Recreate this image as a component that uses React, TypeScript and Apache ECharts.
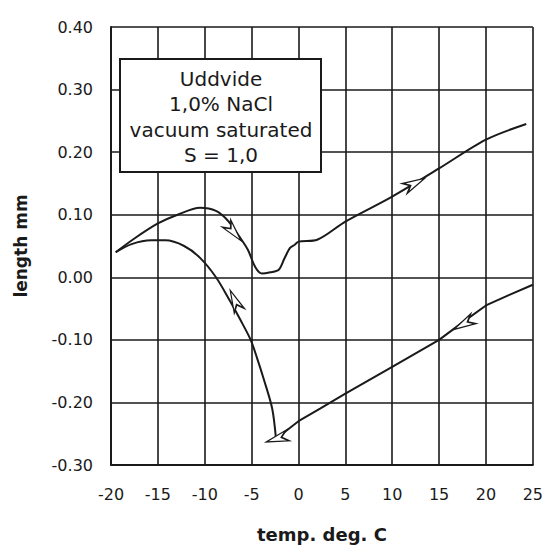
import React, { useEffect, useRef } from "react";
import * as echarts from "echarts";

// cooling branch: 25 °C down to the minimum
const coolingX = [25, 22.5, 20, 17.5, 15, 10, 5, 2.3, 0, -2.4];
const coolingY = [-0.012, -0.028, -0.045, -0.072, -0.1, -0.143, -0.186, -0.21, -0.23, -0.258];

// rising branch after freezing, continuing down to -19.5 °C
const risingX = [-2.4, -2.8, -3.7, -4.4, -5.1, -6.2, -7.3, -8.8, -10.5, -12.2, -14.2, -15.7, -17.8, -19.5];
const risingY = [-0.258, -0.21, -0.163, -0.13, -0.1, -0.068, -0.038, 0.0, 0.031, 0.05, 0.059, 0.059, 0.053, 0.04];

// heating branch from -19.5 °C back to 24 °C
const heatingX = [-19.5, -17.5, -15, -12.9, -10.5, -8.8, -7.5, -6.3, -5.4, -4.6, -3.9, -3, -2.1, -1.5, -0.9, -0.4, 0, 2, 5, 10, 15, 20, 24.3];
const heatingY = [0.04, 0.062, 0.086, 0.1, 0.111, 0.106, 0.09, 0.065, 0.044, 0.016, 0.006, 0.008, 0.012, 0.03, 0.047, 0.052, 0.057, 0.06, 0.089, 0.129, 0.174, 0.22, 0.245];

// direction arrows along the curve
const arrowX = [12.4, -6.9, -6.8, 17.6, -2.3];
const arrowY = [0.15, 0.072, -0.037, -0.075, -0.258];
const arrowRotate = [-63, -140, 24, 119, 107];

const xTicks = { min: -20, max: 25, interval: 5 };
const yTicks = { min: -0.3, max: 0.4, interval: 0.1 };

const boxLines = ["Uddvide", "1,0% NaCl", "vacuum saturated", "S = 1,0"];

const zip = (xs: number[], ys: number[]) => xs.map((x, i) => [x, ys[i]]);

const INK = "#1a1a1a";
const FONT = "DejaVu Sans";

export default function App() {
  const ref = useRef<HTMLDivElement>(null);

  useEffect(() => {
    if (!ref.current) return;
    const chart = echarts.init(ref.current, undefined, { renderer: "svg" });
    const lineStyle = { color: INK, width: 2 };
    chart.setOption({
      animation: false,
      backgroundColor: "#ffffff",
      grid: { left: 111, right: 9, top: 27, bottom: 81 },
      xAxis: {
        type: "value",
        ...xTicks,
        name: "temp. deg. C",
        nameLocation: "middle",
        nameGap: 60,
        nameTextStyle: { fontFamily: FONT, fontSize: 18, fontWeight: "bold", color: INK },
        axisLine: { show: true, onZero: false, lineStyle: { color: INK, width: 2 } },
        axisTick: { show: false },
        axisLabel: { margin: 21, fontFamily: FONT, fontSize: 16, color: INK },
        splitLine: { show: true, lineStyle: { color: INK, width: 1.6 } },
      },
      yAxis: {
        type: "value",
        ...yTicks,
        name: "length mm",
        nameLocation: "middle",
        nameGap: 82,
        nameTextStyle: { fontFamily: FONT, fontSize: 17, fontWeight: "bold", color: INK },
        axisLine: { show: true, onZero: false, lineStyle: { color: INK, width: 2 } },
        axisTick: { show: false },
        axisLabel: {
          margin: 18,
          fontFamily: FONT,
          fontSize: 16,
          color: INK,
          formatter: (v: number) => v.toFixed(2),
        },
        splitLine: { show: true, lineStyle: { color: INK, width: 1.6 } },
      },
      series: [
        {
          type: "line",
          data: zip(coolingX, coolingY),
          showSymbol: false,
          lineStyle,
          z: 3,
        },
        {
          type: "line",
          data: zip(risingX, risingY),
          showSymbol: false,
          smooth: 0.3,
          lineStyle,
          z: 3,
        },
        {
          type: "line",
          data: zip(heatingX, heatingY),
          showSymbol: false,
          smooth: 0.3,
          lineStyle,
          z: 3,
        },
        {
          type: "scatter",
          data: arrowX.map((x, i) => ({
            value: [x, arrowY[i]],
            symbolRotate: arrowRotate[i],
          })),
          symbol: "path://M10,0 L20,28 L10,20 L0,28 Z",
          symbolSize: [11, 22],
          itemStyle: { color: "#ffffff", borderColor: INK, borderWidth: 1.6, opacity: 1 },
          z: 4,
        },
      ],
      graphic: [
        {
          type: "rect",
          shape: { x: 120, y: 59, width: 201, height: 113 },
          style: { fill: "#ffffff", stroke: INK, lineWidth: 2 },
          z: 10,
        },
        {
          type: "text",
          x: 221,
          y: 117,
          style: {
            text: boxLines.join("\n"),
            font: `20px "${FONT}"`,
            fill: INK,
            align: "center",
            verticalAlign: "middle",
            lineHeight: 25.5,
          },
          z: 11,
        },
      ],
    });
    return () => chart.dispose();
  }, []);

  return (
    <div
      ref={ref}
      style={{ position: "absolute", left: 0, top: 0, width: 546, height: 548 }}
    />
  );
}
